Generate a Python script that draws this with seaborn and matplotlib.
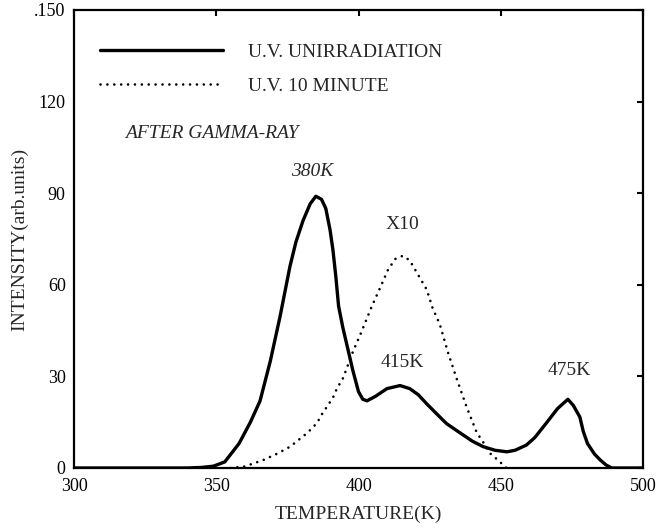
import matplotlib
matplotlib.use("Agg")
import matplotlib.pyplot as plt
import seaborn as sns
import pandas as pd

# ---- data ----
temp_unirr = [300, 340, 345, 349, 353, 358, 362, 365.4, 369, 372.4, 375.9, 378, 380.5, 383, 385,
              387, 388.5, 390, 391, 392, 393, 394.5, 396, 398, 400, 401.5, 403, 406, 410, 414.6,
              418, 421, 424, 428.6, 431, 435.7, 440, 443.8, 448, 452.2, 455, 459, 462, 466, 470,
              473.6, 475.5, 477.8, 479, 480.5, 483, 485, 487, 489, 500]
int_unirr = [0, 0, 0.2, 0.6, 2, 8, 15, 22, 35, 49.5, 66, 74, 81, 86.5, 89,
             88, 85, 78, 71.5, 63, 53, 46, 40, 32, 25, 22.5, 22, 23.5, 26, 27,
             26, 24, 21, 16.7, 14.5, 11.5, 8.8, 7, 5.8, 5.3, 5.8, 7.5, 10, 14.7, 19.5,
             22.5, 20.5, 16.7, 12, 8, 4.5, 2.6, 1, 0, 0]

temp_uv10 = [355, 360, 366.5, 371, 376, 382, 385.4, 387, 391, 392.4, 394.6, 398, 401, 404.7,
             407.6, 410.4, 413, 415.6, 418, 420.5, 424, 426, 428.6, 431.5, 434.6, 438, 441.6,
             443.8, 446, 449, 452]
int_uv10 = [0, 0.5, 2.6, 4.5, 7, 11.5, 14.7, 17.4, 23, 26, 29.5, 38, 44.5, 53,
            59, 65, 68.5, 69.5, 68, 64, 58.4, 52.5, 47, 37.7, 29, 20, 11.5,
            8.5, 5, 2.6, 0]

x_ticks = [300, 350, 400, 450, 500]
y_ticks = [0, 30, 60, 90, 120, 150]
y_tick_labels = ["0", "30", "60", "90", "120", ".150"]

series_labels = ["U.V. UNIRRADIATION", "U.V. 10 MINUTE"]

# ---- styling ----
sns.set_theme(style="white")
plt.rcParams["font.family"] = ["Liberation Serif", "DejaVu Serif"]
plt.rcParams["font.size"] = 14

fig = plt.figure(figsize=(6.59, 5.29), dpi=100)
ax = fig.add_axes([74 / 659, 61 / 529, 569 / 659, 458 / 529])

df1 = pd.DataFrame({"T": temp_unirr, "I": int_unirr})
df2 = pd.DataFrame({"T": temp_uv10, "I": int_uv10})

sns.lineplot(data=df1, x="T", y="I", ax=ax, color="black", linewidth=2.4,
             sort=False, label=series_labels[0])
sns.lineplot(data=df2, x="T", y="I", ax=ax, color="black", linewidth=1.9,
             sort=False, label=series_labels[1],
             linestyle=(0, (0.01, 2.6)), dash_capstyle="round")

ax.set_xlim(300, 500)
ax.set_ylim(0, 150)
ax.set_xticks(x_ticks)
ax.set_yticks(y_ticks)
ax.set_yticklabels(y_tick_labels)

for s in ax.spines.values():
    s.set_color("black")
    s.set_linewidth(1.6)

ax.tick_params(direction="in", length=4, width=1.5, top=True, right=True,
               labelsize=13, colors="black")
ax.tick_params(axis="x", pad=7)
ax.tick_params(axis="y", pad=6)

ax.set_xlabel("TEMPERATURE(K)", fontsize=14, labelpad=8)
ax.set_ylabel("INTENSITY(arb.units)", fontsize=14, labelpad=4)

leg = ax.legend(loc="upper left", bbox_to_anchor=(0.046, 0.927), frameon=False,
                borderpad=0, borderaxespad=0, handlelength=6.3, handletextpad=1.3,
                labelspacing=0.85, fontsize=14)
for h in leg.get_lines():
    h.set_color("black")

ax.text(318, 109.5, "AFTER GAMMA-RAY", style="italic", fontsize=14, ha="left", va="center")
ax.text(383.7, 97, "380K", style="italic", fontsize=14, ha="center", va="center")
ax.text(415.5, 79.7, "X10", fontsize=14, ha="center", va="center")
ax.text(415.5, 34.4, "415K", fontsize=14, ha="center", va="center")
ax.text(474, 32, "475K", fontsize=14, ha="center", va="center")

fig.savefig("out.png", dpi=100)
